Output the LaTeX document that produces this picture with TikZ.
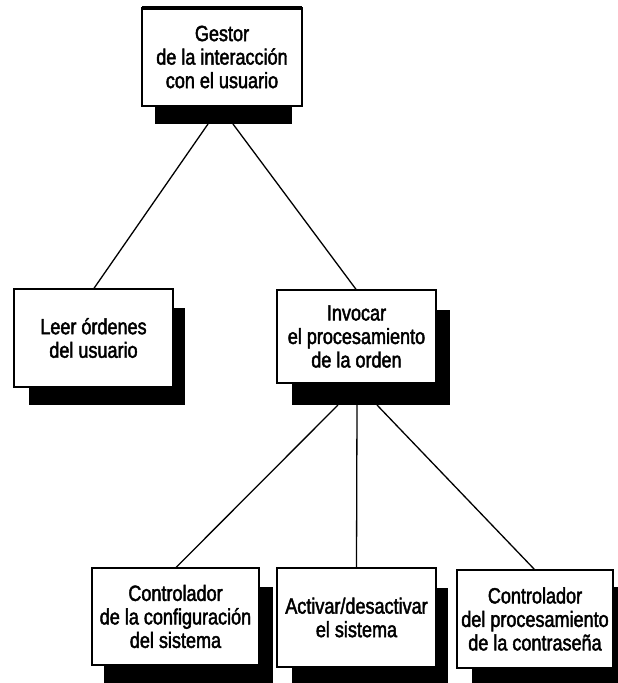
\documentclass[tikz,border=0pt]{standalone}
\usepackage{fontspec}
\setmainfont[FakeStretch=0.82,FakeBold=2]{Liberation Sans}
\usetikzlibrary{calc}
\begin{document}
\begin{tikzpicture}[x=1pt,y=-1pt,
  caja/.style={draw=black, line width=2.6pt, fill=white, inner sep=0pt, outer sep=0pt,
    align=center, font=\fontsize{22}{23.5}\selectfont},
  sombra/.style={fill=black, draw=none, inner sep=0pt, outer sep=0pt},
  conector/.style={draw=black, line width=1.3pt}]
\useasboundingbox (0,0) rectangle (618,683);

% shadows behind the boxes
\node[sombra, minimum width=137, minimum height=104] (gestor-s)   at (223.5,72) {};
\node[sombra, minimum width=156, minimum height=97]  (leer-s)     at (107,356.5) {};
\node[sombra, minimum width=158, minimum height=95]  (invocar-s)  at (371,357.5) {};
\node[sombra, minimum width=169, minimum height=96]  (config-s)   at (188.5,635) {};
\node[sombra, minimum width=156, minimum height=95]  (activar-s)  at (370,635.5) {};
\node[sombra, minimum width=146, minimum height=96]  (clave-s)    at (545,635) {};

% boxes
\node[caja, minimum width=160, minimum height=98] (gestor) at (222,57)
  {Gestor\\de la interacción\\con el usuario};
\node[caja, minimum width=159, minimum height=98] (leer) at (93.5,338)
  {Leer órdenes\\del usuario};
\node[caja, minimum width=159, minimum height=93] (invocar) at (356.5,336.5)
  {Invocar\\el procesamiento\\de la orden};
\node[caja, minimum width=167, minimum height=97] (config) at (175.5,616.5)
  {Controlador\\de la configuración\\del sistema};
\node[caja, minimum width=159, minimum height=99] (activar) at (356.5,617.5)
  {Activar/desactivar\\el sistema};
\node[caja, minimum width=156, minimum height=98] (clave) at (535,619)
  {Controlador\\del procesamiento\\de la contraseña};

% heavier rule along the top of the root box
\draw[line width=3.5pt] (gestor.north west) -- (gestor.north east);

% connectors
\draw[conector] ($(gestor-s.south)+(-15.5,0)$) -- (leer.north);
\draw[conector] ($(gestor-s.south)+(9.5,0)$) -- (invocar.north);
\draw[conector] ($(invocar-s.south)+(-33,0)$) -- (config.north);
\draw[conector] ($(invocar-s.south)+(-14,0)$) -- (activar.north);
\draw[conector] ($(invocar-s.south)+(6,0)$) -- (clave.north);
\end{tikzpicture}
\end{document}
